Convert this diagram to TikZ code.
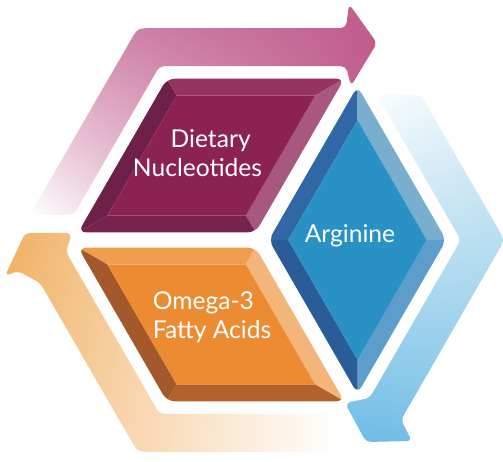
\documentclass[tikz,border=0pt]{standalone}
\usepackage{fontspec}
\setmainfont{Lato}
\usetikzlibrary{calc,shadings}

\definecolor{nucface}{RGB}{140,34,82}
\definecolor{nucleft}{RGB}{110,33,72}
\definecolor{nuctop}{RGB}{150,52,95}
\definecolor{nucright}{RGB}{168,87,127}
\definecolor{nucbottom}{RGB}{120,35,78}
\definecolor{argface}{RGB}{42,145,196}
\definecolor{argupleft}{RGB}{47,104,164}
\definecolor{argupright}{RGB}{122,174,206}
\definecolor{arglowright}{RGB}{92,157,203}
\definecolor{arglowleft}{RGB}{42,92,152}
\definecolor{omeface}{RGB}{236,139,49}
\definecolor{ometop}{RGB}{240,158,78}
\definecolor{omeright}{RGB}{243,181,122}
\definecolor{omebottom}{RGB}{180,98,43}
\definecolor{omeleft}{RGB}{163,89,43}
\definecolor{pinkfar}{RGB}{205,130,167}
\definecolor{pinknear}{RGB}{192,92,140}
\definecolor{orangenear}{RGB}{240,176,98}
\definecolor{orangefar}{RGB}{244,190,128}
\definecolor{bluetop}{RGB}{228,242,248}
\definecolor{bluenear}{RGB}{108,187,229}
\definecolor{bluefar}{RGB}{124,194,230}

\begin{document}
\begin{tikzpicture}[x=0.02cm, y=-0.02cm,
    gap/.style={draw=white, line width=4pt, rounded corners=4.5pt},
    facetext/.style={text=white, font=\fontsize{14}{16.5}\selectfont, align=center}]
    \useasboundingbox (0,0) rectangle (503,462);

    % Hexagon corners and face centres
    \coordinate (c) at (260,240);
    \coordinate (l) at (65,240);
    \coordinate (tl) at (162.5,71.1);
    \coordinate (tr) at (357.5,71.1);
    \coordinate (r) at (455,240);
    \coordinate (br) at (357.5,408.9);
    \coordinate (bl) at (162.5,408.9);
    \coordinate (mnuc) at (211.25,155.5);
    \coordinate (marg) at (357.5,240);
    \coordinate (mome) at (211.25,324.5);

    % Pink arrow (top)
    \shade[rounded corners=3pt, upper left=pinkfar, upper right=pinknear, lower left=white, lower right=pinknear]
        (29.8,215) -- (127.7,45.4) .. controls (137.7,28.1) .. (157.7,28.1) -- (346,28.1) -- (349,4) -- (377,43)
        -- (351,86) -- (346,66.1) -- (159.6,66.1) -- (73.6,215) -- cycle;

    % Blue arrow (right)
    \shade[rounded corners=3pt, upper left=white, upper right=bluetop, lower left=bluenear, lower right=bluefar]
        (377.1,95) -- (420.9,95) -- (495.6,224.4) .. controls (504.6,240) .. (495.6,255.6) -- (401,420) -- (412,441)
        -- (366,442) -- (345,403) -- (369.6,398) -- (460.8,240) -- cycle;

    % Orange arrow (bottom left)
    \shade[rounded corners=3pt, upper left=orangenear, upper right=white, lower left=orangefar, lower right=white]
        (335,451.9) -- (157.7,451.9) .. controls (137.7,451.9) .. (127.7,434.6) -- (40.2,283) -- (18,271) -- (5,276)
        -- (25,233) -- (72,233) -- (66,252) -- (159.6,413.9) -- (335,413.9) -- cycle;

    % The three bevelled faces
    \foreach \va/\vb/\vc/\vd/\vm/\ea/\eb/\ec/\ed/\fc in {l/tl/tr/c/mnuc/nucleft/nuctop/nucright/nucbottom/nucface,%
        c/tr/r/br/marg/argupleft/argupright/arglowright/arglowleft/argface,%
        l/c/br/bl/mome/ometop/omeright/omebottom/omeleft/omeface}
    {
        \draw[gap] ($(\va)!.09!(\vm)$) -- ($(\vb)!.09!(\vm)$) -- ($(\vc)!.09!(\vm)$) -- ($(\vd)!.09!(\vm)$) -- cycle;
        \begin{scope}
            \clip[rounded corners=4.5pt] ($(\va)!.09!(\vm)$) -- ($(\vb)!.09!(\vm)$) -- ($(\vc)!.09!(\vm)$) -- ($(\vd)!.09!(\vm)$) -- cycle;
            \fill[\ea] (\va) -- (\vb) -- ($(\vb)!.29!(\vm)$) -- ($(\va)!.29!(\vm)$) -- cycle;
            \fill[\eb] (\vb) -- (\vc) -- ($(\vc)!.29!(\vm)$) -- ($(\vb)!.29!(\vm)$) -- cycle;
            \fill[\ec] (\vc) -- (\vd) -- ($(\vd)!.29!(\vm)$) -- ($(\vc)!.29!(\vm)$) -- cycle;
            \fill[\ed] (\vd) -- (\va) -- ($(\va)!.29!(\vm)$) -- ($(\vd)!.29!(\vm)$) -- cycle;
            \fill[\fc] ($(\va)!.29!(\vm)$) -- ($(\vb)!.29!(\vm)$) -- ($(\vc)!.29!(\vm)$) -- ($(\vd)!.29!(\vm)$) -- cycle;
        \end{scope}
    }

    % Labels
    \node[facetext] (nuc) at (197.5,153) {\hspace*{15pt}Dietary\\Nucleotides};
    \node[facetext] (arg) at (350,236) {Arginine};
    \node[facetext, align=left] (ome) at (212,317) {Omega-3\\Fatty Acids};
\end{tikzpicture}
\end{document}
